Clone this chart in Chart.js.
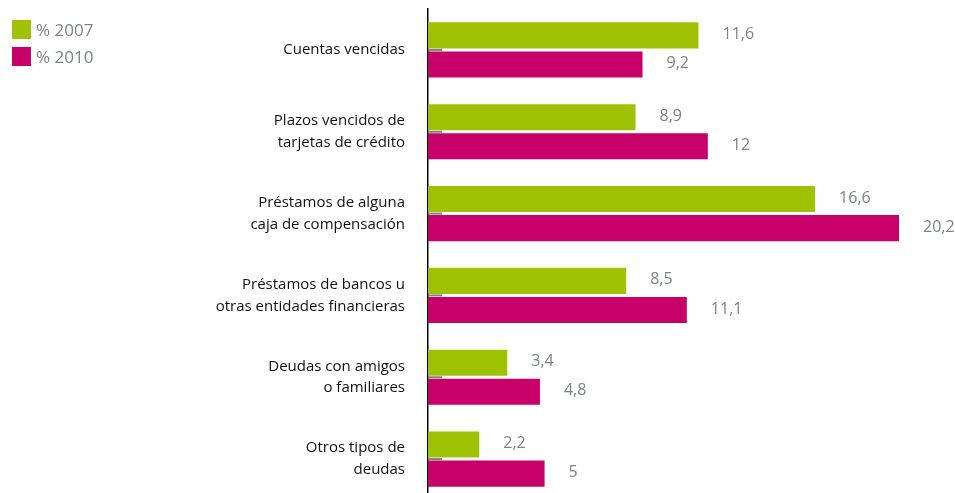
<!DOCTYPE html>
<html>
<head>
<meta charset="utf-8">
<script src="https://cdn.jsdelivr.net/npm/chart.js@4/dist/chart.umd.min.js"></script>
<style>
    body { margin: 0; background: #fff; overflow: hidden; }
    #wrap { position: relative; width: 955px; height: 500px; }
    #legend { position: absolute; left: 12px; top: 16px; font-family: "Open Sans", sans-serif; font-size: 17px; color: #7d8289; }
    #legend div { display: flex; align-items: center; height: 27px; }
    #legend span.box { display: inline-block; width: 19px; height: 19px; margin-right: 5px; }
</style>
</head>
<body>
<div id="wrap">
    <canvas id="chart" width="955" height="500"></canvas>
    <div id="legend"></div>
</div>
<script>
    const categories = [
        ['Cuentas vencidas'],
        ['Plazos vencidos de', 'tarjetas de crédito'],
        ['Préstamos de alguna', 'caja de compensación'],
        ['Préstamos de bancos u', 'otras entidades financieras'],
        ['Deudas con amigos', 'o familiares'],
        ['Otros tipos de', 'deudas']
    ];
    const values2007 = [11.6, 8.9, 16.6, 8.5, 3.4, 2.2];
    const values2010 = [9.2, 12, 20.2, 11.1, 4.8, 5];
    const seriesNames = ['% 2007', '% 2010'];
    const seriesColors = ['#a0c204', '#c8006a'];

    // small gray marks at each category on the axis
    const axisMarks = {
        id: 'axisMarks',
        beforeDatasetsDraw(chart) {
            const ctx = chart.ctx;
            const y = chart.scales.y;
            const left = chart.chartArea.left;
            ctx.save();
            ctx.strokeStyle = '#808080';
            ctx.lineWidth = 2;
            categories.forEach((c, i) => {
                const py = y.getPixelForValue(i);
                ctx.beginPath();
                ctx.moveTo(left, py);
                ctx.lineTo(left + 14, py);
                ctx.stroke();
            });
            ctx.restore();
        }
    };

    // value labels to the right of each bar
    const valueLabels = {
        id: 'valueLabels',
        afterDatasetsDraw(chart) {
            const ctx = chart.ctx;
            ctx.save();
            ctx.fillStyle = '#7d8289';
            ctx.font = '16px "Open Sans"';
            ctx.textAlign = 'left';
            ctx.textBaseline = 'middle';
            chart.data.datasets.forEach((ds, di) => {
                chart.getDatasetMeta(di).data.forEach((bar, i) => {
                    const txt = String(ds.data[i]).replace('.', ',');
                    ctx.fillText(txt, bar.x + 24, bar.y - 1);
                });
            });
            ctx.restore();
        }
    };

    const ctx = document.getElementById('chart').getContext('2d');
    const chart = new Chart(ctx, {
        type: 'bar',
        data: {
            labels: categories,
            datasets: [{
                label: seriesNames[0],
                data: values2007,
                backgroundColor: seriesColors[0]
            }, {
                label: seriesNames[1],
                data: values2010,
                backgroundColor: seriesColors[1]
            }]
        },
        options: {
            indexAxis: 'y',
            responsive: false,
            animation: false,
            categoryPercentage: 0.71,
            barPercentage: 0.897,
            layout: { padding: { top: 9, right: 14, bottom: 0, left: 0 } },
            plugins: {
                legend: { display: false },
                tooltip: { enabled: false }
            },
            scales: {
                x: {
                    display: false,
                    min: 0,
                    max: 22
                },
                y: {
                    afterFit(scale) {
                        scale.width = 428;
                        scale.paddingTop = 0;
                        scale.paddingBottom = 0;
                    },
                    grid: { display: false, drawTicks: false },
                    border: { display: true, color: '#000', width: 1.5 },
                    ticks: {
                        color: '#111',
                        padding: 23,
                        font: { family: 'Open Sans', size: 15, lineHeight: 1.45 }
                    }
                }
            }
        },
        plugins: [axisMarks, valueLabels]
    });

    // legend built from the datasets
    const legend = document.getElementById('legend');
    chart.data.datasets.forEach(ds => {
        legend.innerHTML += `<div><span class="box" style="background:${ds.backgroundColor}"></span>${ds.label}</div>`;
    });
</script>
</body>
</html>
